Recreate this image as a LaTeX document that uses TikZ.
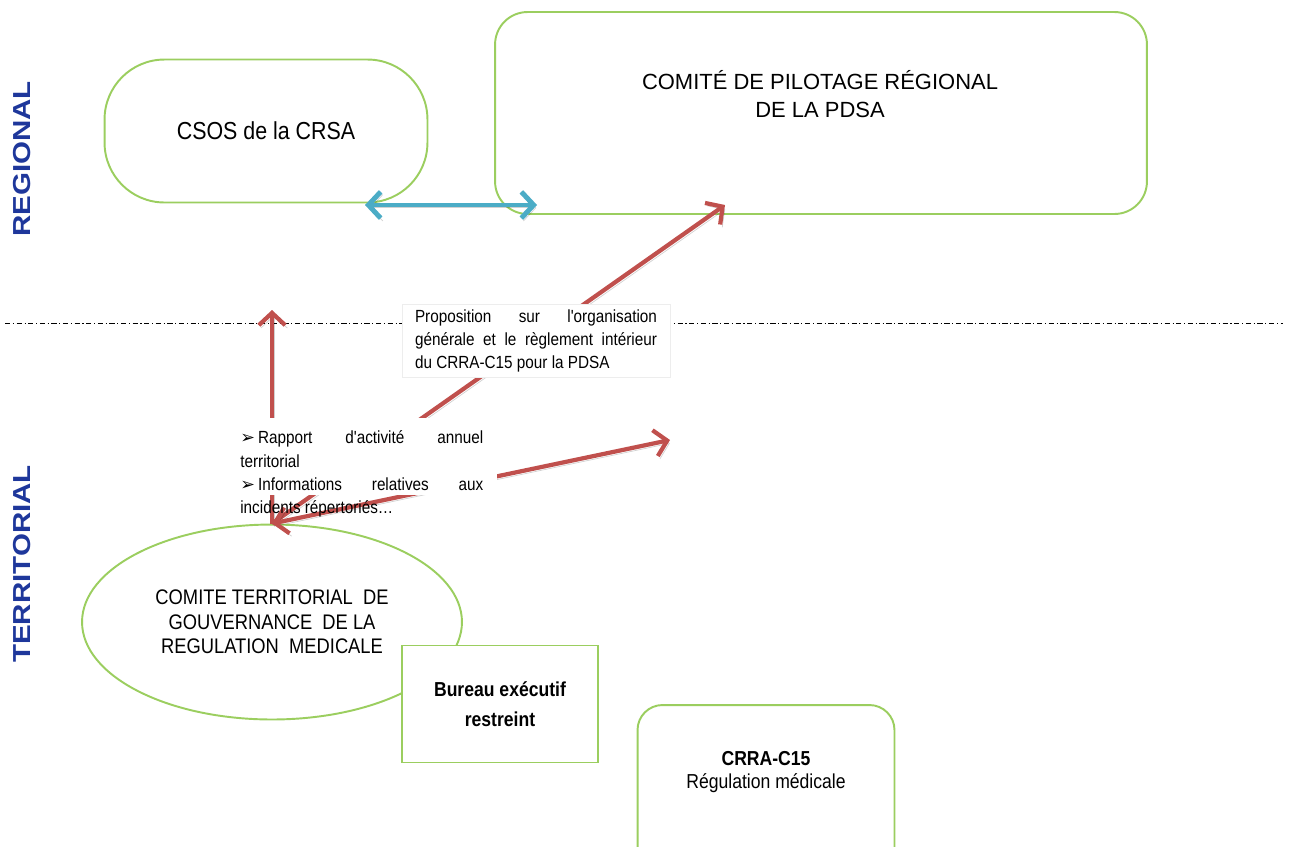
\documentclass[tikz,border=0pt]{standalone}
\usepackage{fontspec}
\setmainfont{Liberation Sans}
\newfontfamily\narrowfont{Liberation Sans}[FakeStretch=0.87]
\newfontfamily\widefont{Liberation Sans}[FakeStretch=1.2]
\newfontfamily\symfont{DejaVu Sans}
\usetikzlibrary{arrows.meta}
\usetikzlibrary{shapes.geometric}
\definecolor{mygreen}{RGB}{155,206,95}
\definecolor{myred}{RGB}{192,80,77}
\definecolor{myblue}{RGB}{75,172,198}
\definecolor{mynavy}{RGB}{30,55,155}

\tikzset{
  >={Straight Barb[length=7pt,width=15pt]},
  greenbox/.style={draw=mygreen, line width=1.1pt, fill=white, inner sep=0pt},
  sidelabel/.style={rotate=90, text=mynavy, font=\widefont\bfseries\fontsize{14}{14}\selectfont},
  redarrow/.style={myred, line width=2.4pt,
    preaction={draw=black, opacity=0.18, transform canvas={shift={(1.2pt,-1.6pt)}}}},
  bluearrow/.style={myblue, line width=2.8pt,
    preaction={draw=black, opacity=0.18, transform canvas={shift={(1.2pt,-1.6pt)}}}},
  notebox/.style={font=\narrowfont\fontsize{10}{13.3}\selectfont, inner xsep=0.26cm, inner ysep=2pt, align=justify}
}

\begin{document}
\begin{tikzpicture}[x=0.02cm,y=-0.02cm]
\clip (0,0) rectangle (1290,846);

%levels
\node[sidelabel] (regional) at (22,159) {REGIONAL};
\node[sidelabel] (territorial) at (22,564) {TERRITORIAL};

%regional boxes
\node[greenbox, rounded corners=1.2cm, minimum width=6.46cm, minimum height=2.86cm,
  font=\narrowfont\fontsize{14}{16}\selectfont] (csos) at (266,131) {CSOS de la CRSA};
\node[greenbox, rounded corners=0.65cm, minimum width=13.04cm, minimum height=4.04cm] (comite) at (821,113) {};
\node[font=\fontsize{12.5}{15.9}\selectfont, align=center] (comiteText) at (820,94)
  {COMITÉ DE PILOTAGE RÉGIONAL\\DE LA PDSA};

%separation
\draw[line width=0.5pt, dash pattern=on 3pt off 1.5pt on 0.6pt off 1.5pt] (5,323) -- (1283,323);

%territorial boxes
\node[greenbox, ellipse, minimum width=7.6cm, minimum height=3.9cm, align=center,
  font=\narrowfont\fontsize{12}{13.9}\selectfont] (terr) at (272,622)
  {COMITE TERRITORIAL \ DE\\GOUVERNANCE \ DE LA\\REGULATION \ MEDICALE};
\node[greenbox, minimum width=3.92cm, minimum height=2.34cm, align=center,
  font=\narrowfont\bfseries\fontsize{11.5}{17}\selectfont] (bureau) at (500,704) {Bureau exécutif\\restreint};
\node[greenbox, rounded corners=0.5cm, minimum width=5.14cm, minimum height=4cm] (crra) at (766,805) {};
\node[align=center, font=\narrowfont\fontsize{11.5}{13.5}\selectfont] (crraText) at (766,772)
  {{\bfseries CRRA-C15}\\Régulation médicale};

%arrows
\coordinate (csosR) at (365,205);
\coordinate (comiteL) at (537,205);
\coordinate (upTip) at (272,310);
\coordinate (comiteTip) at (725,205);
\coordinate (crraTip) at (670,440);
\draw[bluearrow,<->] (csosR) -- (comiteL);
\draw[redarrow,->] (terr.north) -- (upTip);
\draw[redarrow,->] (terr.north) -- (comiteTip);
\draw[redarrow,<->] (terr.north) -- (crraTip);

%notes
\node[notebox, fill=white, draw=black!7, inner ysep=3pt, text width=4.84cm] (prop) at (536,341)
  {Proposition sur l'organisation\linebreak générale et le règlement intérieur\linebreak du CRRA-C15 pour la PDSA};
\fill[white] (230,418) rectangle (497,495);
\node[notebox, anchor=north west, inner xsep=0.2cm, text width=4.86cm] (rapport) at (230,427)
  {{\symfont ➢}\,Rapport d'activité annuel\linebreak territorial\par
   {\symfont ➢}\,Informations relatives aux\linebreak incidents répertoriés…};

\end{tikzpicture}
\end{document}
